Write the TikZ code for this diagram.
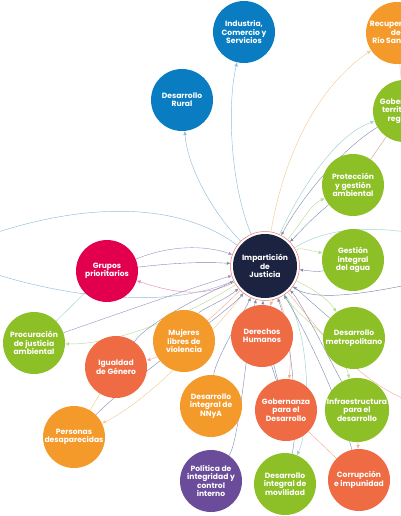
\documentclass[tikz,border=0pt]{standalone}
\usepackage{fontspec}
\setmainfont{Poppins}
\usetikzlibrary{arrows.meta,backgrounds}
\definecolor{cblue}{HTML}{0A7DC2}
\definecolor{corange}{HTML}{F39A2B}
\definecolor{cgreen}{HTML}{8DC026}
\definecolor{cred}{HTML}{EE6B43}
\definecolor{cpink}{HTML}{E2004E}
\definecolor{cpurple}{HTML}{6B4C9A}
\definecolor{cnavy}{HTML}{1C2340}
\definecolor{lblue}{HTML}{8DBCDD}
\definecolor{lorange}{HTML}{F5CA98}
\definecolor{lteal}{HTML}{9CD2CD}
\definecolor{lgreen}{HTML}{B9DC98}
\definecolor{lsalmon}{HTML}{F4AE9A}
\definecolor{lpink}{HTML}{EE8AAA}
\definecolor{slate}{HTML}{7C8BAE}
\definecolor{lpurple}{HTML}{9D8DBA}
\definecolor{ring}{HTML}{E8776E}
\begin{document}
\begin{tikzpicture}[x=1pt,y=-1pt,
  topic/.style={circle,minimum size=62pt,inner sep=0pt,align=center,text=white,
    font=\fontsize{7.6}{8.4}\selectfont\bfseries},
  link/.style={line width=0.45pt},
  tip/.style={-{Latex[length=4pt,width=3.6pt]}},
  intip/.style={-{Latex[length=3.5pt,width=3.2pt]},slate,line width=0.4pt},
]
\useasboundingbox (0,0) rectangle (400,516);
% nodes
\node[circle,draw=ring,line width=0.5pt,minimum size=69pt,inner sep=0pt] (impo) at (265,266) {};
\node[topic,fill=cnavy,minimum size=64pt] (imp) at (265,266) {Impartición\\de\\Justicia};
\node[topic,fill=cblue] (ind) at (244,32) {Industria,\\Comercio y\\Servicios};
\node[topic,fill=cblue] (rur) at (182,100) {Desarrollo\\Rural};
\node[topic,fill=corange] (rec) at (397,33) {Recuperación\\del\\Río Santiago};
\node[topic,fill=cgreen] (gtr) at (404,111) {Gobernanza\\territorial y\\regional};
\node[topic,fill=cgreen] (pro) at (353,185) {Protección\\y gestión\\ambiental};
\node[topic,fill=cgreen] (agu) at (353,260) {Gestión\\integral\\del agua};
\node[topic,fill=cgreen] (met) at (354,338) {Desarrollo\\metropolitano};
\node[topic,fill=cgreen] (inf) at (357,410) {Infraestructura\\para el\\desarrollo};
\node[topic,fill=cred] (cor) at (359,480) {Corrupción\\e impunidad};
\node[topic,fill=cgreen] (mov) at (285,484) {Desarrollo\\integral de\\movilidad};
\node[topic,fill=cred] (gob) at (286,410) {Gobernanza\\para el\\Desarrollo};
\node[topic,fill=cred] (der) at (262,336) {Derechos\\Humanos};
\node[topic,fill=corange] (muj) at (184,341) {Mujeres\\libres de\\violencia};
\node[topic,fill=cred] (igu) at (116,367) {Igualdad\\de Género};
\node[topic,fill=cgreen] (prc) at (34,343) {Procuración\\de justicia\\ambiental};
\node[topic,fill=corange] (per) at (74,437) {Personas\\desaparecidas};
\node[topic,fill=corange] (nny) at (211,406) {Desarrollo\\integral de\\NNyA};
\node[topic,fill=cpurple] (pol) at (211,481) {Política de\\integridad y\\control\\interno};
\node[topic,fill=cpink] (gru) at (107,271) {Grupos\\prioritarios};
\coordinate (offL1) at (-40,246);
\coordinate (offL2) at (-40,262);
\coordinate (offR1) at (430,236);
\coordinate (offR2) at (430,280);
\coordinate (offR3) at (430,408);
\begin{scope}[on background layer]
% outgoing coloured links
\draw[link,tip,lblue] (impo) .. controls (215,215) and (188,170) .. (rur);
\draw[link,tip,lblue] (impo) .. controls (232,190) and (226,110) .. (ind);
\draw[link,tip,lorange] (impo) .. controls (285,150) and (320,85) .. (rec);
\draw[link,tip,lteal] (impo) .. controls (300,190) and (335,135) .. (gtr);
\draw[link,tip,lgreen] (impo) .. controls (300,225) and (310,205) .. (pro);
\draw[link,tip,lgreen] (impo) .. controls (300,248) .. (agu);
\draw[link,tip,lgreen] (impo) .. controls (305,285) and (325,295) .. (met);
\draw[link,tip,lgreen] (impo) .. controls (300,320) and (340,340) .. (inf);
\draw[link,tip,lsalmon] (impo) .. controls (288,320) and (292,350) .. (gob);
\draw[link,tip,lteal] (impo) .. controls (310,330) and (312,420) .. (mov);
\draw[link,tip,lsalmon] (impo) .. controls (274,300) and (272,300) .. (der);
\draw[link,tip,lpink] (impo) .. controls (200,300) and (165,290) .. (gru);
\draw[link,tip,lorange] (impo) .. controls (215,330) and (150,400) .. (per);
\draw[link,tip,lgreen] (impo) .. controls (180,320) and (110,345) .. (prc);
\draw[link,tip,lsalmon] (impo) .. controls (210,320) and (170,355) .. (igu);
\draw[link,tip,lsalmon] (inf) -- (cor);
% plain links
\draw[link,lorange] (rec) -- (gtr);
\draw[link,lsalmon!70!slate] (gtr) -- (pro);
\draw[link,lorange] (igu) -- (per);
\draw[link,lsalmon] (gob) -- (cor);
\draw[link,lteal] (gru) -- (prc);
\draw[link,slate] (der) -- (gob);
% incoming links
\draw[intip,lpurple] (gru) .. controls (170,245) and (205,245) .. (impo);
\draw[intip] (gru) .. controls (180,262) and (210,262) .. (impo);
\draw[intip] (muj) .. controls (200,310) and (225,300) .. (impo);
\draw[intip] (igu) .. controls (150,320) and (215,290) .. (impo);
\draw[intip,lpurple] (prc) .. controls (100,320) and (200,285) .. (impo);
\draw[intip] (per) .. controls (130,380) and (230,310) .. (impo);
\draw[intip] (nny) .. controls (215,360) and (245,310) .. (impo);
\draw[intip] (pol) .. controls (240,440) and (248,330) .. (impo);
\draw[intip] (gob) .. controls (275,370) and (262,320) .. (impo);
\draw[intip] (mov) .. controls (300,420) and (290,330) .. (impo);
\draw[intip] (cor) .. controls (340,400) and (300,320) .. (impo);
\draw[intip] (inf) .. controls (330,360) and (300,300) .. (impo);
\draw[intip] (met) .. controls (320,310) and (298,290) .. (impo);
\draw[intip] (agu) .. controls (320,272) .. (impo);
\draw[intip] (pro) .. controls (310,220) and (300,232) .. (impo);
\draw[intip] (gtr) .. controls (340,150) and (300,200) .. (impo);
% links leaving the frame
\draw[link,lblue] (impo) .. controls (170,195) and (60,205) .. (offL1);
\draw[link,lblue] (impo) .. controls (170,310) and (60,300) .. (offL2);
\draw[link,lteal] (impo) .. controls (320,232) and (360,222) .. (offR1);
\draw[link,slate] (impo) .. controls (310,300) and (350,298) .. (offR2);
\draw[link,lsalmon] (impo) .. controls (320,330) and (360,390) .. (offR3);
\end{scope}
\end{tikzpicture}
\end{document}
